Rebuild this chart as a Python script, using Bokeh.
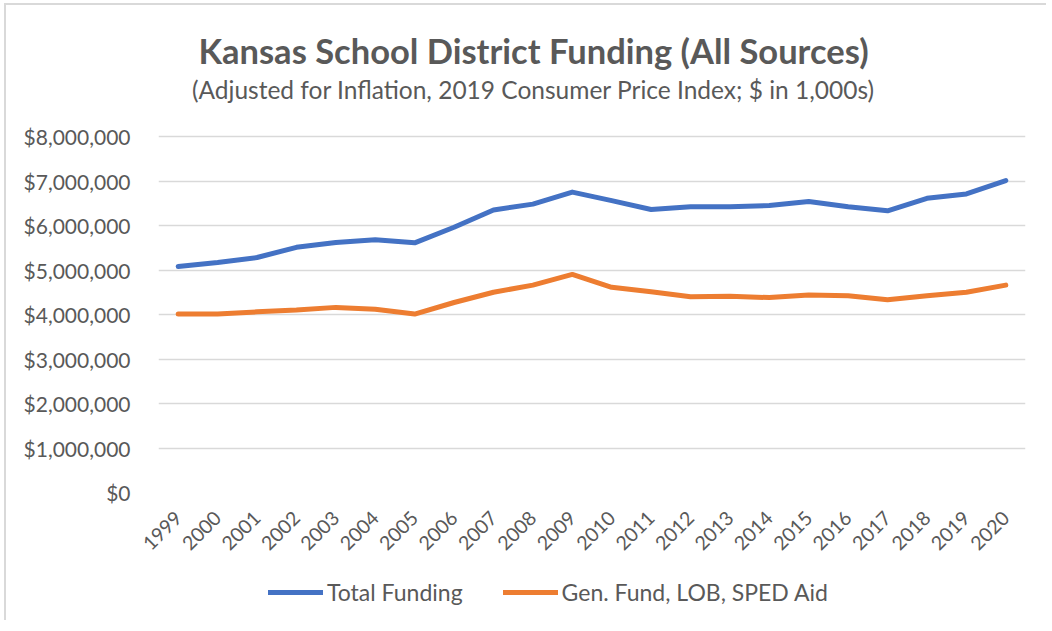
from math import pi
from bokeh.plotting import figure
from bokeh.layouts import column
from bokeh.models import (ColumnDataSource, FactorRange, Range1d, NumeralTickFormatter,
                          Legend, LegendItem, Label, FixedTicker)
from bokeh.embed import file_html
from bokeh.resources import INLINE

years = ["1999", "2000", "2001", "2002", "2003", "2004", "2005", "2006", "2007", "2008", "2009",
         "2010", "2011", "2012", "2013", "2014", "2015", "2016", "2017", "2018", "2019", "2020"]
total_funding = [5080000, 5170000, 5280000, 5510000, 5620000, 5680000, 5610000, 5960000, 6350000,
                 6480000, 6750000, 6560000, 6360000, 6420000, 6420000, 6450000, 6540000, 6420000,
                 6330000, 6610000, 6710000, 7010000]
gen_fund = [4010000, 4010000, 4060000, 4100000, 4160000, 4120000, 4010000, 4270000, 4500000,
            4660000, 4900000, 4610000, 4510000, 4400000, 4410000, 4380000, 4440000, 4420000,
            4330000, 4420000, 4500000, 4660000]
y_ticks = [0, 1000000, 2000000, 3000000, 4000000, 5000000, 6000000, 7000000, 8000000]
title_text = "Kansas School District Funding (All Sources)"
subtitle_text = "(Adjusted for Inflation, 2019 Consumer Price Index; $ in 1,000s)"
series_names = ["Total Funding", "Gen. Fund, LOB, SPED Aid"]

FONT = "Lato"
GREY = "#595959"
BLUE = "#4472C4"
ORANGE = "#ED7D31"

source = ColumnDataSource(data=dict(year=years, total=total_funding, gen=gen_fund))

# main chart: the frame reaches the top of the canvas so the titles can sit inside it;
# gridlines/ticks stop at $8,000,000 (height of the 0..8M band is 356 px)
W, H_MAIN = 1040, 555
FRAME_H = 487
y_top = y_ticks[-1] * FRAME_H / 356.0

p = figure(width=W, height=H_MAIN, output_backend="svg", toolbar_location=None,
           x_range=FactorRange(factors=years), y_range=Range1d(0, y_top),
           min_border_left=152, min_border_right=21, min_border_top=0,
           min_border_bottom=H_MAIN - FRAME_H)
p.outline_line_color = None
p.xgrid.grid_line_color = None
p.ygrid.grid_line_color = "#d9d9d9"
p.ygrid.grid_line_width = 1.5

p.yaxis.ticker = FixedTicker(ticks=y_ticks)
p.yaxis.formatter = NumeralTickFormatter(format="$0,0")
for ax in (p.xaxis, p.yaxis):
    ax.axis_line_color = None
    ax.major_tick_line_color = None
    ax.minor_tick_line_color = None
    ax.major_label_text_color = GREY
    ax.major_label_text_font = FONT
p.yaxis.major_label_text_font_size = "21px"
p.yaxis.major_label_standoff = 22
p.xaxis.major_label_text_font_size = "19.5px"
p.xaxis.major_label_orientation = pi / 4
p.xaxis.major_label_standoff = 16

p.line("year", "total", source=source, line_color=BLUE, line_width=5, line_cap="round",
       line_join="round")
p.line("year", "gen", source=source, line_color=ORANGE, line_width=5, line_cap="round",
       line_join="round")

p.add_layout(Label(x=375, y=442, x_units="screen", y_units="screen", text=title_text,
                   text_font=FONT, text_font_size="34.5px", text_font_style="bold",
                   text_color=GREY, text_align="center", text_baseline="middle"))
p.add_layout(Label(x=375, y=403, x_units="screen", y_units="screen", text=subtitle_text,
                   text_font=FONT, text_font_size="24.5px", text_color=GREY,
                   text_align="center", text_baseline="middle"))

# legend strip below the chart
q = figure(width=W, height=60, output_backend="svg", toolbar_location=None,
           x_range=FactorRange(factors=years), y_range=Range1d(-2, -1),
           min_border=0, min_border_left=0, min_border_right=0, min_border_top=0,
           min_border_bottom=0)
q.axis.visible = False
q.grid.visible = False
q.outline_line_color = None
l1 = q.line("year", "total", source=source, line_color=BLUE, line_width=5, line_cap="round")
l2 = q.line("year", "gen", source=source, line_color=ORANGE, line_width=5, line_cap="round")
legend = Legend(items=[LegendItem(label=series_names[0], renderers=[l1]),
                       LegendItem(label=series_names[1], renderers=[l2])],
                orientation="horizontal", location=(110, 14),
                glyph_width=55, glyph_height=24, label_standoff=4, spacing=40,
                padding=0, margin=0, border_line_color=None, background_fill_alpha=0,
                label_text_font=FONT, label_text_font_size="23px", label_text_color=GREY)
q.add_layout(legend, "center")

layout = column(p, q, spacing=0,
                styles={"border-left": "2px solid #d9d9d9", "border-top": "2px solid #d9d9d9",
                        "margin-left": "4px", "margin-top": "3px"})

open("out.html", "w").write(file_html(layout, INLINE))
